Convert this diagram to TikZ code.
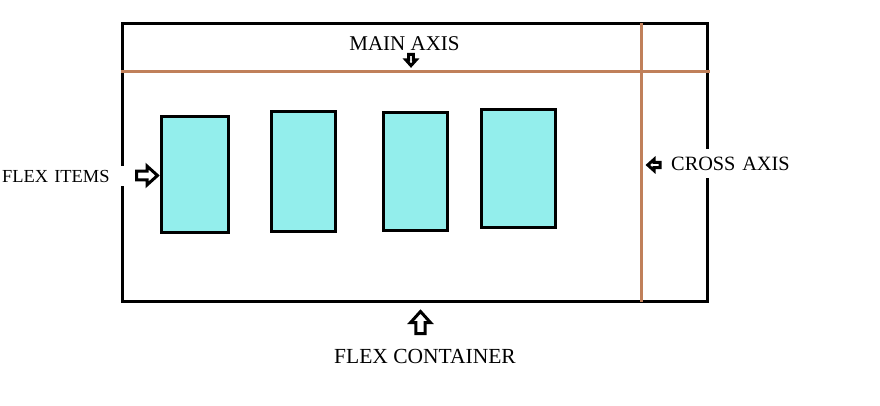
\documentclass[tikz,border=0pt]{standalone}
\usepackage{fontspec}
\setmainfont{Liberation Serif}
\usepackage{xcolor}
\usetikzlibrary{positioning}
\definecolor{axisbrown}{RGB}{192,128,90}
\definecolor{itemcyan}{RGB}{147,238,236}
\tikzset{
  pics/blockarrow/.style={code={
    \draw[line width=3pt,fill=white,line join=miter]
      (-1,-0.42) -- (0,-0.42) -- (0,-0.9) -- (1,0) -- (0,0.9) -- (0,0.42) -- (-1,0.42) -- cycle;}},
  lbl/.style={font=\fontsize{#1}{#1}\selectfont,inner sep=2pt}
}

\begin{document}
\begin{tikzpicture}[x=1pt,y=-1pt,
    itembox/.style={draw,line width=3pt,fill=itemcyan,inner sep=0pt},
    axisline/.style={axisbrown,line width=3pt}]
  \fill[white] (0,0) rectangle (880,406);
  \useasboundingbox (0,0) rectangle (880,406);
  % container and its axes
  \node[draw,line width=3pt,minimum width=585pt,minimum height=277.5pt,inner sep=0pt]
    (container) at (414.5,162.25) {};
  \node[lbl=18.4,anchor=west,fill=white,text width=124pt,minimum height=20pt,align=left]
    (itemslbl) at (0,176) {FLEX ITEMS};
  \node[lbl=20.3,anchor=west,fill=white,text width=140pt,minimum height=29pt,align=left]
    (crosslbl) at (669,164) {CROSS AXIS};
  \coordinate (mainL) at (121,71.5);
  \coordinate (mainR) at (710,71.5);
  \coordinate (crossT) at (641,23);
  \coordinate (crossB) at (641,302);
  \draw[axisline] (mainL) -- (mainR);
  \draw[axisline] (crossT) -- (crossB);
  % flex items
  \foreach \n/\x/\y/\w/\h in {1/195/174.5/67/116, 2/303.5/171.5/64/120,
                              3/415.5/171.5/64/118, 4/518.5/168.5/74/118}{
    \node[itembox,minimum width=\w pt,minimum height=\h pt] (item\n) at (\x,\y) {};}
  % labels
  \node[lbl=21] (mainlbl) at (404.5,44) {MAIN AXIS};
  \node[lbl=21.5] (contlbl) at (425,356) {FLEX CONTAINER};
  \pic[scale=5.6,rotate=-90] at (411,60) {blockarrow};
  \pic[scale=10.5] at (147,175.5) {blockarrow};
  \pic[scale=6.2,rotate=180] at (654,165) {blockarrow};
  \pic[scale=11,rotate=90] at (420.5,322.5) {blockarrow};
\end{tikzpicture}
\end{document}
